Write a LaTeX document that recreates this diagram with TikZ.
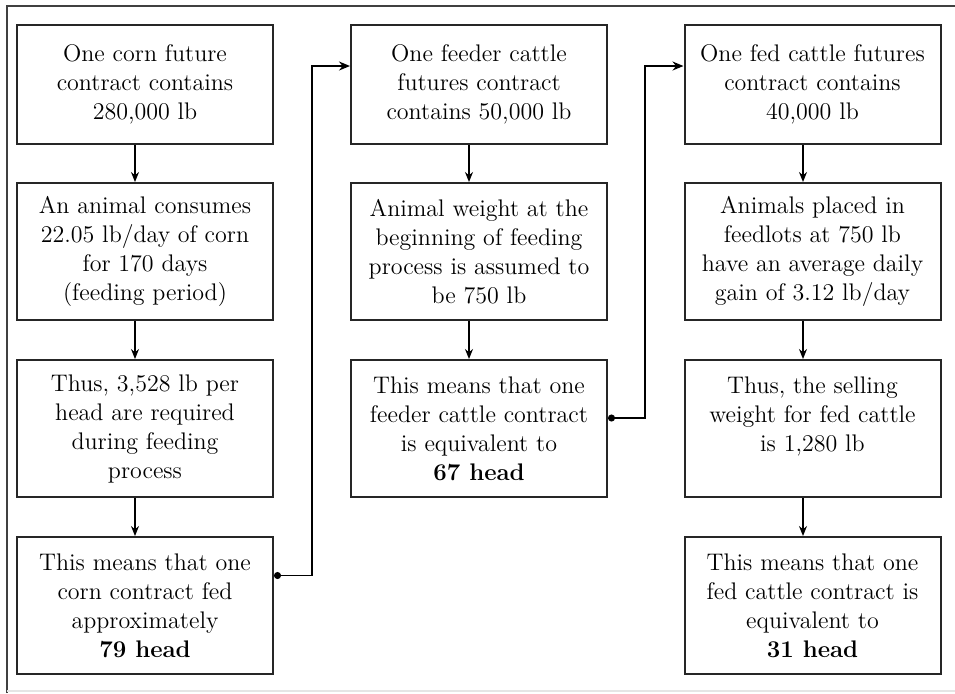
\documentclass[tikz,border=0pt]{standalone}
\usepackage{amsmath}
\usetikzlibrary{arrows.meta}

\begin{document}
\begin{tikzpicture}[x=0.5pt,y=-0.5pt,
        box/.style={draw=black!85, line width=1pt, minimum width=128pt, minimum height=68.5pt,
            align=center, inner sep=2pt, font=\fontsize{12}{14.5}\selectfont},
        topbox/.style={box, minimum height=59.5pt},
        arr/.style={-{Stealth[length=5pt,width=4pt]}, line width=0.8pt},
        link/.style={{Circle[length=3.5pt]}-{Stealth[length=5.5pt,width=4.5pt]}, line width=0.8pt}]
        \useasboundingbox (0,0) rectangle (955,693);

        % outer frame
        \draw[black!75, line width=1pt] (7,693) -- (7,6) -- (955,6);
        \draw[black!10, line width=0.6pt] (7,691) -- (955,691);

        % corn
        \node[topbox] (c1a) at (145,84.5) {One corn future\\contract contains\\280,000 lb};
        \node[box] (c1b) at (145,251.5) {An animal consumes\\22.05 lb/day of corn\\for 170 days\\(feeding period)};
        \node[box] (c1c) at (145,428.5) {Thus, 3,528 lb per\\head are required\\during feeding\\process};
        \node[box] (c1d) at (145,605.5) {This means that one\\corn contract fed\\approximately\\\textbf{79 head}};

        % feeder cattle
        \node[topbox] (c2a) at (479,84.5) {One feeder cattle\\futures contract\\contains 50,000 lb};
        \node[box] (c2b) at (479,251.5) {Animal weight at the\\beginning of feeding\\process is assumed to\\be 750 lb};
        \node[box] (c2c) at (479,428.5) {This means that one\\feeder cattle contract\\is equivalent to\\\textbf{67 head}};

        % fed cattle
        \node[topbox] (c3a) at (812.5,84.5) {One fed cattle futures\\contract contains\\40,000 lb};
        \node[box] (c3b) at (812.5,251.5) {Animals placed in\\feedlots at 750 lb\\have an average daily\\gain of 3.12 lb/day};
        \node[box] (c3c) at (812.5,428.5) {Thus, the selling\\weight for fed cattle\\is 1,280 lb\\~};
        \node[box] (c3d) at (812.5,605.5) {This means that one\\fed cattle contract is\\equivalent to\\\textbf{31 head}};

        % arrows down
        \draw[arr] ([xshift=-5pt]c1a.south) -- ([xshift=-5pt]c1b.north);
        \draw[arr] ([xshift=-5pt]c1b.south) -- ([xshift=-5pt]c1c.north);
        \draw[arr] ([xshift=-5pt]c1c.south) -- ([xshift=-5pt]c1d.north);
        \draw[arr] ([xshift=-5pt]c2a.south) -- ([xshift=-5pt]c2b.north);
        \draw[arr] ([xshift=-5pt]c2b.south) -- ([xshift=-5pt]c2c.north);
        \draw[arr] ([xshift=-4.75pt]c3a.south) -- ([xshift=-4.75pt]c3b.north);
        \draw[arr] ([xshift=-4.75pt]c3b.south) -- ([xshift=-4.75pt]c3c.north);
        \draw[arr] ([xshift=-4.75pt]c3c.south) -- ([xshift=-4.75pt]c3d.north);

        % links between columns
        \coordinate (j1) at (312,66);
        \coordinate (j2) at (645,66);
        \draw[link] ([yshift=15pt]c1d.east) -| (j1) -- (j1 -| c2a.west);
        \draw[link] ([yshift=5.25pt]c2c.east) -| (j2) -- (j2 -| c3a.west);
    \end{tikzpicture}
\end{document}
